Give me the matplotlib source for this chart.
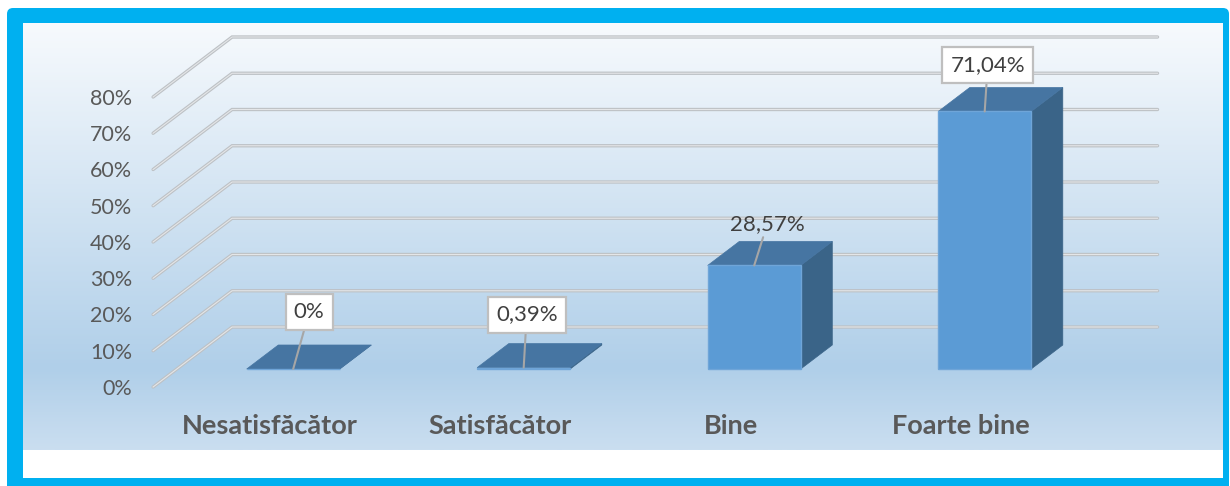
import matplotlib.pyplot as plt
import numpy as np
from matplotlib.colors import LinearSegmentedColormap
from matplotlib.patches import FancyBboxPatch, Polygon, Rectangle

plt.rcParams["font.family"] = ["Lato", "DejaVu Sans"]

categories = ["Nesatisfăcător", "Satisfăcător", "Bine", "Foarte bine"]
values = [0, 0.39, 28.57, 71.04]
value_labels = ["0%", "0,39%", "28,57%", "71,04%"]
y_ticks = [0, 10, 20, 30, 40, 50, 60, 70, 80]

FRONT = "#5B9BD5"
TOP = "#4675A2"
SIDE = "#3A6488"
GRID = "#BDC1C5"
TEXT = "#595959"

# size of one unit on the screen, in pixels
px_x = 230.5
px_y = 3.625
# the floor goes this far back and up when depth = 1
depth_x = 79 / px_x
depth_y = 60 / px_y
bar_width = 93 / px_x
bar_near = 0.3
bar_far = 0.7


def project(x, y, depth):
    return x + depth * depth_x, y + depth * depth_y


fig = plt.figure(figsize=(12.3, 4.86), dpi=100)
fig.patch.set_facecolor("white")

# frame and background, in pixels
bg = fig.add_axes([0, 0, 1, 1])
bg.axis("off")
bg.add_patch(FancyBboxPatch((11, 12), 1214, 500, boxstyle="round,pad=4,rounding_size=6", fc="#00B0F0", ec="none", zorder=0))
bg.add_patch(Rectangle((23, 24), 1200, 454, fc="white", ec="none", zorder=1))
cmap = LinearSegmentedColormap.from_list(
    "panel", [(0, "#F7FAFD"), (0.81, "#B0CFE9"), (1, "#CADEF0")]
)
grad = np.linspace(0, 1, 256)[:, np.newaxis]
bg.imshow(grad, cmap=cmap, extent=(23, 1223, 450, 24), aspect="auto", zorder=2)
bg.set_xlim(0, 1230)
bg.set_ylim(486, 0)

# chart axes: x in categories, y in percent
ax = fig.add_axes([0, 0, 1, 1])
ax.patch.set_alpha(0)
ax.axis("off")
ax.set_xlim(-269.5 / px_x, (1230 - 269.5) / px_x)
ax.set_ylim(-(486 - 387) / px_y, 387 / px_y)

x_left = -0.505
x_right = 3.51
for t in y_ticks:
    bx, by = project(x_left, t, 1)
    ex, ey = project(x_right, t, 1)
    ax.plot([x_left, bx, ex], [t, by, ey], color=GRID, lw=2.4, solid_capstyle="round", solid_joinstyle="miter", zorder=1)
    ax.plot([x_left, bx, ex], [t, by, ey], color="#E4E6E8", lw=0.8, solid_joinstyle="miter", zorder=1)
    ax.text(x_left - 0.09, t - 0.5, f"{t}%", ha="right", va="center", fontsize=15.5, color=TEXT)

for i, v in enumerate(values):
    x0 = i - bar_width / 2
    x1 = i + bar_width / 2
    corners_top = [project(x0, v, bar_near), project(x1, v, bar_near), project(x1, v, bar_far), project(x0, v, bar_far)]
    corners_side = [project(x1, 0, bar_near), project(x1, 0, bar_far), project(x1, v, bar_far), project(x1, v, bar_near)]
    corners_front = [project(x0, 0, bar_near), project(x1, 0, bar_near), project(x1, v, bar_near), project(x0, v, bar_near)]
    ax.add_patch(Polygon(corners_side, fc=SIDE, ec=SIDE, lw=0.5, zorder=2))
    ax.add_patch(Polygon(corners_top, fc=TOP, ec=TOP, lw=0.5, zorder=2))
    ax.add_patch(Polygon(corners_front, fc=FRONT, ec="#6FA5D8", lw=1, zorder=3))

# label offsets from the bar top, in pixels
label_dx = [16, 3, 13, 3]
label_dy = [57, 53, 41, 46]
has_box = [True, True, False, True]
for i, v in enumerate(values):
    box = dict(boxstyle="square,pad=0.36", fc="white", ec="#BFBFBF", lw=1.6) if has_box[i] else None
    ax.annotate(
        value_labels[i],
        xy=project(i, v, bar_near),
        xytext=(label_dx[i], label_dy[i]),
        textcoords="offset pixels",
        ha="center",
        va="center",
        fontsize=16,
        color="#404040",
        bbox=box,
        arrowprops=dict(arrowstyle="-", color="#A6A6A6", lw=1.5, shrinkA=0, shrinkB=0),
        zorder=5,
    )

for i, name in enumerate(categories):
    ax.text(i, -10.7, name, ha="center", va="center", fontsize=19.5, fontweight="bold", color=TEXT)

plt.savefig("out.png", dpi=100)
